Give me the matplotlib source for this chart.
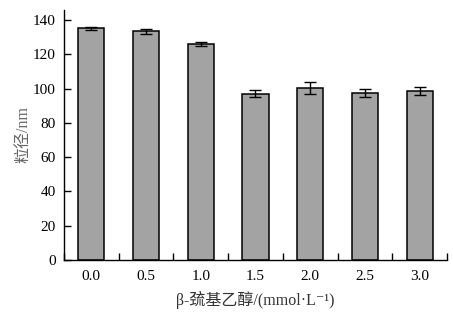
import matplotlib
matplotlib.use("Agg")
import matplotlib.pyplot as plt
import numpy as np

categories = ["0.0", "0.5", "1.0", "1.5", "2.0", "2.5", "3.0"]
values = [135.3, 133.5, 126.2, 97.2, 100.6, 97.6, 98.8]
errors = [1.0, 1.6, 1.0, 2.0, 3.4, 2.4, 2.4]
yticks = [0, 20, 40, 60, 80, 100, 120, 140]

plt.rcParams['font.family'] = ['Liberation Serif', 'Noto Sans CJK SC', 'DejaVu Serif']

fig = plt.figure(figsize=(4.53, 3.12), dpi=100)
ax = fig.add_axes([0.141, 0.167, 0.846, 0.801])
x = np.arange(len(categories))
ax.bar(x, values, width=0.48, color='#a2a3a2', edgecolor='black', linewidth=1.1,
       yerr=errors, error_kw=dict(ecolor='black', elinewidth=1.0, capsize=4, capthick=1.0))
ax.set_xlim(-0.5, 6.5)
ax.set_ylim(0, 146)
ax.set_yticks(yticks)
ax.set_xticks(x)
ax.set_xticklabels(categories, fontsize=11)
ax.set_xticks(np.arange(-0.5, 6.6, 1.0), minor=True)
ax.tick_params(axis='x', which='major', length=0, pad=7)
ax.tick_params(axis='x', which='minor', direction='in', length=5, width=1.0)
ax.tick_params(axis='y', direction='in', length=5, width=1.0, labelsize=11, pad=6)
ax.spines['top'].set_visible(False)
ax.spines['right'].set_visible(False)
ax.spines['left'].set_linewidth(1.0)
ax.spines['bottom'].set_linewidth(1.0)
ax.set_ylabel("粒径/nm", fontsize=11.5, color='#666666', labelpad=1)
ax.set_xlabel("β-巯基乙醇/(mmol·L⁻¹)", fontsize=11.5, color='#333333', labelpad=6)
fig.savefig("out.png", dpi=100)
